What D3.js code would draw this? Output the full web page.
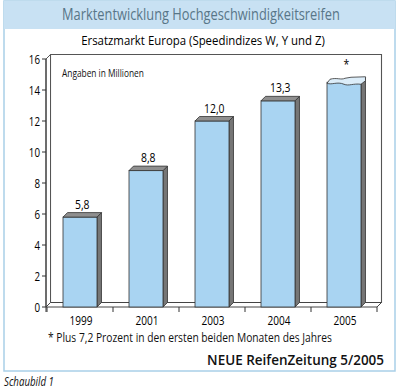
<!DOCTYPE html>
<html>
  <head>
    <meta charset="utf-8" />
    <script src="https://d3js.org/d3.v7.min.js"></script>
    <style>
      body { margin: 0; background: #fff; }
      text { font-family: 'Open Sans', 'Noto Sans', sans-serif; }
    </style>
  </head>
  <body>
    <div id="chart"></div>
    <script>
      // data
      var years = ['1999', '2001', '2003', '2004', '2005'];
      var values = [5.8, 8.8, 12.0, 13.3, 14.5];
      var valueLabels = ['5,8', '8,8', '12,0', '13,3', '*'];
      var yTicks = [0, 2, 4, 6, 8, 10, 12, 14, 16];

      var width = 400,
        height = 389;
      var depth = 4.5;

      var svg = d3
        .select('#chart')
        .append('svg')
        .attr('width', width)
        .attr('height', height);

      // the original uses a condensed face: squeeze text with a transform
      function squeeze(el, k) {
        var tx = +el.attr('x'), ty = +el.attr('y');
        el.attr('x', 0).attr('y', 0)
          .attr('transform', 'translate(' + tx + ',' + ty + ') scale(' + k + ',1)');
        return el;
      }
      function condense(el, k) {
        return squeeze(el, k);
      }
      function fit(el, w) {
        var n = el.node().getComputedTextLength();
        return squeeze(el, w / n);
      }

      // frame + title band
      svg.append('rect')
        .attr('x', 4).attr('y', 1).attr('width', 391).attr('height', 370)
        .attr('fill', '#fff').attr('stroke', '#a9cfe8').attr('stroke-width', 1.5);
      svg.append('rect')
        .attr('x', 4).attr('y', 1).attr('width', 391).attr('height', 28)
        .attr('fill', '#c8e1f3');

      fit(svg.append('text')
        .attr('x', 201).attr('y', 20)
        .attr('text-anchor', 'middle')
        .style('font-size', '16px')
        .style('fill', '#587688')
        .text('Marktentwicklung Hochgeschwindigkeitsreifen'), 278);

      fit(svg.append('text')
        .attr('x', 203).attr('y', 45)
        .attr('text-anchor', 'middle')
        .style('font-size', '13px')
        .style('fill', '#000')
        .text('Ersatzmarkt Europa (Speedindizes W, Y und Z)'), 244);

      var x = d3.scaleBand().domain(years).range([47, 377])
        .paddingInner(0.485).paddingOuter(0.2425);
      var xb = d3.scaleBand().domain(years).range([47, 377]);
      var y = d3.scaleLinear().domain([0, 16]).range([307, 59]);

      var x0 = 46, x1 = 377, yb = y(0), yt = y(16);
      var line = function (pts) { return 'M' + pts.join('L') + 'Z'; };

      // back wall, left wall, floor
      svg.append('path')
        .attr('d', line([[x0 + depth, yt - depth], [x1 + depth, yt - depth], [x1 + depth, yb - depth], [x0 + depth, yb - depth]]))
        .attr('fill', '#fff').attr('stroke', '#555').attr('stroke-width', 1.1);
      svg.append('path')
        .attr('d', line([[x0, yt], [x0 + depth, yt - depth], [x0 + depth, yb - depth], [x0, yb]]))
        .attr('fill', '#fff').attr('stroke', '#555').attr('stroke-width', 1);
      svg.append('path')
        .attr('d', line([[x0, yb], [x0 + depth, yb - depth], [x1 + depth, yb - depth], [x1, yb]]))
        .attr('fill', '#fff').attr('stroke', '#444').attr('stroke-width', 1);

      // y axis
      svg.append('line')
        .attr('x1', x0).attr('x2', x0).attr('y1', yt).attr('y2', yb + 5)
        .attr('stroke', '#333');
      var yAxis = svg.append('g');
      yTicks.forEach(function (t) {
        yAxis.append('line')
          .attr('x1', x0 - 4).attr('x2', x0).attr('y1', y(t)).attr('y2', y(t))
          .attr('stroke', '#333');
        condense(yAxis.append('text')
          .attr('x', x0 - 6).attr('y', y(t) + 4.5)
          .attr('text-anchor', 'end')
          .style('font-size', '12.5px').style('fill', '#000')
          .text(t), 0.78);
      });

      // x ticks + labels
      years.concat(['end']).forEach(function (yr) {
        var tx = yr === 'end' ? x1 : xb(yr);
        svg.append('line')
          .attr('x1', tx).attr('x2', tx).attr('y1', yb).attr('y2', yb + 5)
          .attr('stroke', '#333');
      });
      years.forEach(function (yr) {
        fit(svg.append('text')
          .attr('x', xb(yr) + xb.bandwidth() / 2 + 1).attr('y', 325)
          .attr('text-anchor', 'middle')
          .style('font-size', '13px').style('fill', '#000')
          .text(yr), 23);
      });

      fit(svg.append('text')
        .attr('x', 62).attr('y', 77)
        .style('font-size', '11px').style('fill', '#111')
        .text('Angaben in Millionen'), 82);

      // bars
      var bw = x.bandwidth();
      years.forEach(function (yr, i) {
        var bx = x(yr), by = y(values[i]);
        var g = svg.append('g');
        g.append('path')
          .attr('d', line([[bx + bw, by], [bx + bw + depth, by - depth], [bx + bw + depth, yb - depth], [bx + bw, yb]]))
          .attr('fill', '#767676').attr('stroke', '#333').attr('stroke-width', 0.8);
        g.append('rect')
          .attr('x', bx).attr('y', by).attr('width', bw).attr('height', yb - by)
          .attr('fill', '#a9d4f2').attr('stroke', '#333').attr('stroke-width', 0.8);
        if (valueLabels[i] === '*') {
          // torn top for the incomplete year
          var w = bw + depth;
          g.append('path')
            .attr('d', 'M' + bx + ',' + (by + 1) +
              ' L' + (bx + 3) + ',' + (by - 3) +
              ' C' + (bx + 10) + ',' + (by - 5) + ' ' + (bx + 14) + ',' + (by - 2) + ' ' + (bx + 18) + ',' + (by - 4) +
              ' L' + (bx + 24) + ',' + (by - 5) +
              ' L' + (bx + w) + ',' + (by - depth - 1) +
              ' L' + (bx + bw + depth) + ',' + (by - depth + 3) +
              ' L' + (bx + bw) + ',' + (by + 2) +
              ' C' + (bx + 26) + ',' + (by + 1) + ' ' + (bx + 22) + ',' + (by + 4) + ' ' + (bx + 17) + ',' + (by + 2) +
              ' C' + (bx + 10) + ',' + (by - 1) + ' ' + (bx + 5) + ',' + (by + 3) + ' ' + bx + ',' + (by + 1) + 'Z')
            .attr('fill', '#dcedf9').attr('stroke', '#333').attr('stroke-width', 0.8);
        } else {
          g.append('path')
            .attr('d', line([[bx, by], [bx + depth, by - depth], [bx + bw + depth, by - depth], [bx + bw, by]]))
            .attr('fill', '#8f8f8f').attr('stroke', '#333').attr('stroke-width', 0.8);
        }
        condense(g.append('text')
          .attr('x', bx + (bw + depth) / 2).attr('y', by - depth - (valueLabels[i] === '*' ? 9 : 4))
          .attr('text-anchor', 'middle')
          .style('font-size', '13px').style('fill', '#000')
          .text(valueLabels[i]), 0.8);
      });

      fit(svg.append('text')
        .attr('x', 48).attr('y', 342)
        .style('font-size', '12px').style('fill', '#111')
        .text('* Plus 7,2 Prozent in den ersten beiden Monaten des Jahres'), 284);

      fit(svg.append('text')
        .attr('x', 384).attr('y', 365)
        .attr('text-anchor', 'end')
        .style('font-size', '13.5px').style('font-weight', 600).style('fill', '#111')
        .text('NEUE ReifenZeitung 5/2005'), 177);

      fit(svg.append('text')
        .attr('x', 4).attr('y', 386)
        .style('font-size', '13px').style('font-style', 'italic').style('fill', '#111')
        .text('Schaubild 1'), 50);
    </script>
  </body>
</html>
